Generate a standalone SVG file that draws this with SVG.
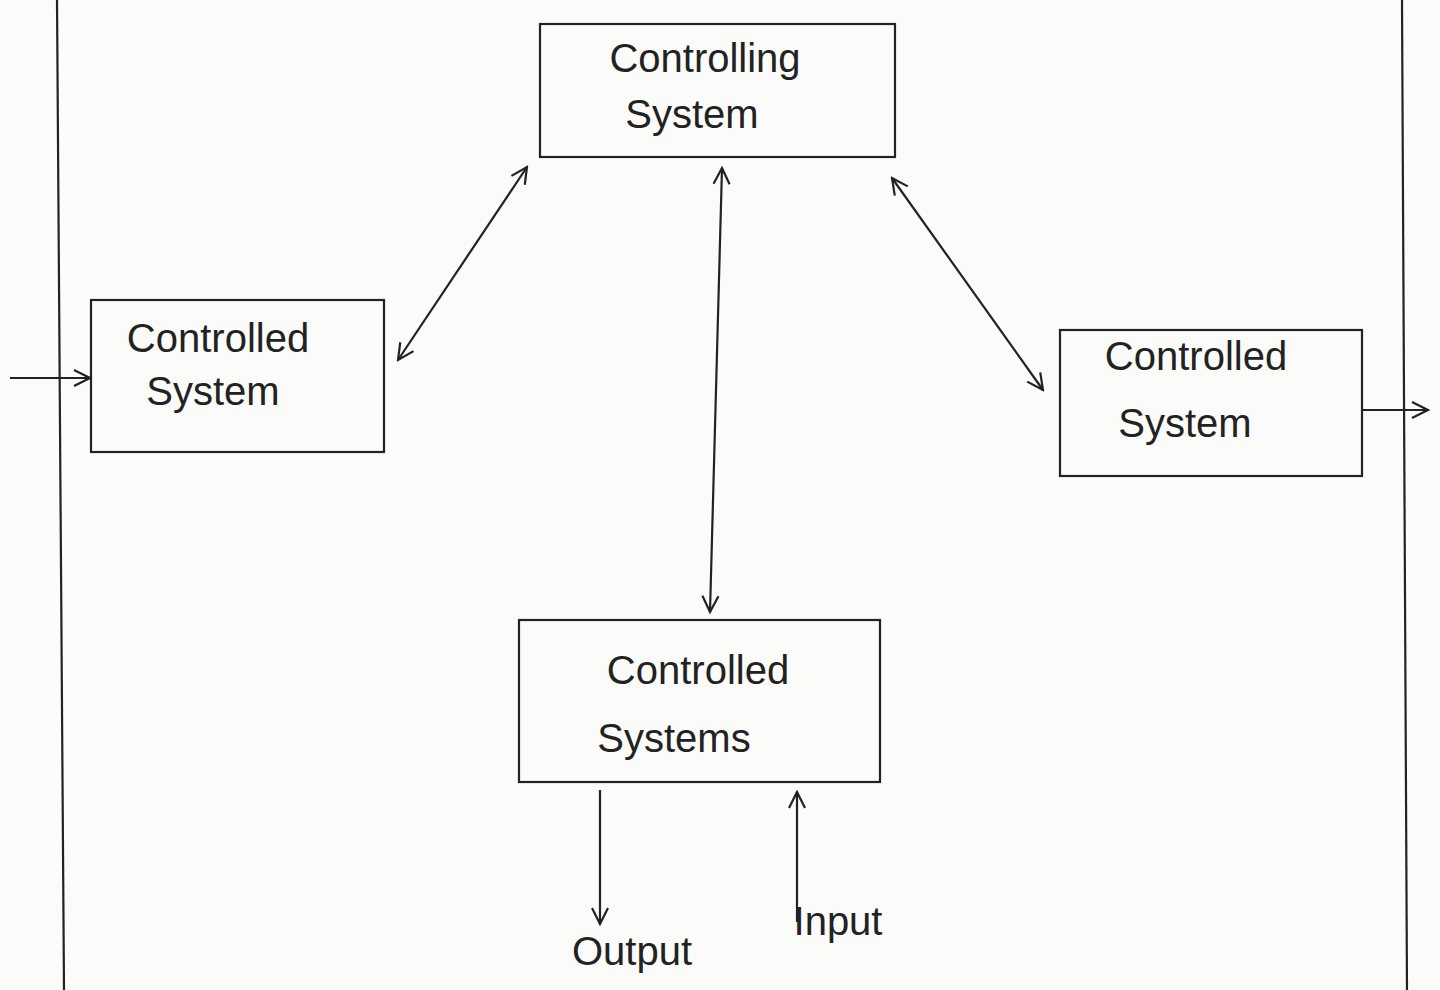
<svg xmlns="http://www.w3.org/2000/svg" width="1440" height="990" viewBox="0 0 1440 990">
<defs>
<marker id="ah" viewBox="0 0 20 20" refX="18" refY="10" markerWidth="20" markerHeight="20" markerUnits="userSpaceOnUse" orient="auto-start-reverse">
<path d="M2,2 L18,10 L2,18" fill="none" stroke="#222" stroke-width="2.2"/>
</marker>
<style>
.box{fill:none;stroke:#222;stroke-width:2.2}
.ln{fill:none;stroke:#222;stroke-width:2.2}
.t{font-family:"Liberation Sans",Arial,sans-serif;font-size:40px;fill:#222;text-anchor:middle}
</style>
</defs>
<rect width="1440" height="990" fill="#fbfbfa"/>
<g id="frame">
<line class="ln" x1="57" y1="0" x2="64" y2="990"/>
<line class="ln" x1="1402" y1="0" x2="1407" y2="990"/>
</g>
<g id="controlling">
<rect class="box" x="540" y="24" width="355" height="133"/>
<text class="t" x="705" y="72">Controlling</text>
<text class="t" x="692" y="128">System</text>
</g>
<g id="controlled-left">
<rect class="box" x="91" y="300" width="293" height="152"/>
<text class="t" x="218" y="352">Controlled</text>
<text class="t" x="213" y="405">System</text>
</g>
<g id="controlled-right">
<rect class="box" x="1060" y="330" width="302" height="146"/>
<text class="t" x="1196" y="370">Controlled</text>
<text class="t" x="1185" y="437">System</text>
</g>
<g id="controlled-bottom">
<rect class="box" x="519" y="620" width="361" height="162"/>
<text class="t" x="698" y="684">Controlled</text>
<text class="t" x="674" y="752">Systems</text>
</g>
<g id="connectors">
<line class="ln" x1="10" y1="378" x2="90" y2="378" marker-end="url(#ah)"/>
<line class="ln" x1="1362" y1="410" x2="1428" y2="410" marker-end="url(#ah)"/>
<line class="ln" x1="398" y1="360" x2="527" y2="167" marker-start="url(#ah)" marker-end="url(#ah)"/>
<line class="ln" x1="892" y1="178" x2="1043" y2="390" marker-start="url(#ah)" marker-end="url(#ah)"/>
<line class="ln" x1="722" y1="168" x2="710" y2="612" marker-start="url(#ah)" marker-end="url(#ah)"/>
<line class="ln" x1="600" y1="790" x2="600" y2="924" marker-end="url(#ah)"/>
<line class="ln" x1="797" y1="922" x2="797" y2="792" marker-end="url(#ah)"/>
</g>
<g id="labels">
<text class="t" x="632" y="965">Output</text>
<text class="t" x="838" y="935">Input</text>
</g>
</svg>
